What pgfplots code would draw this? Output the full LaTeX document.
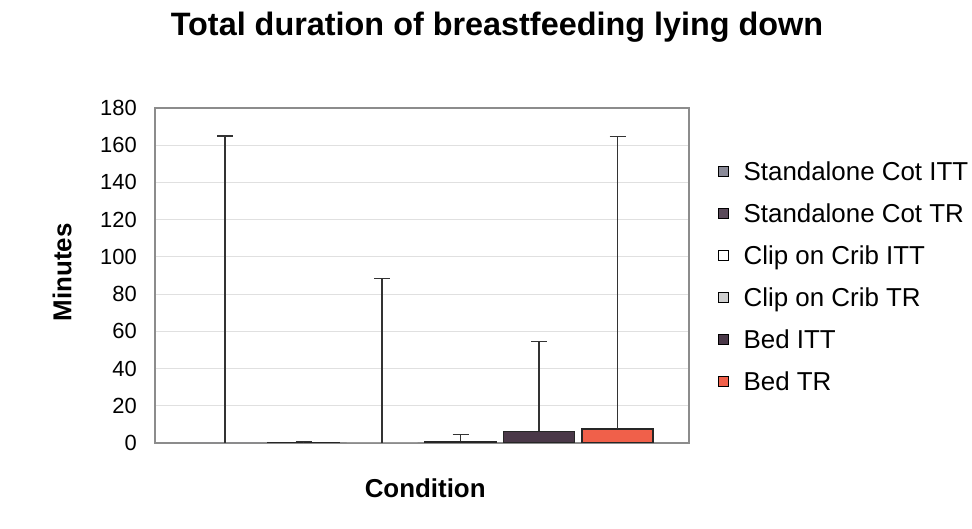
\documentclass[border=0pt]{standalone}
\usepackage{pgfplots}
\pgfplotsset{compat=1.18}
\usepackage{fontspec}
\setmainfont{Liberation Sans}
\definecolor{scITT}{HTML}{8A8A98}
\definecolor{scTR}{HTML}{5A4A5A}
\definecolor{ccITT}{HTML}{FFFFFF}
\definecolor{ccTR}{HTML}{D0D0D0}
\definecolor{bedITT}{HTML}{4A3848}
\definecolor{bedTR}{HTML}{F0604A}
\pgfplotsset{eb/.style={line width=1.2pt, error bars/.cd, y dir=plus, y explicit,
  error mark=|, error mark options={line width=1.4pt, mark size=8bp, black!80},
  error bar style={line width=1.4pt, black!80}}}
\begin{document}
\begin{tikzpicture}
\useasboundingbox (0,0) rectangle (972bp,529bp);
\node[font=\bfseries\fontsize{32.5}{34}\selectfont] at (497bp,502bp) {Total duration of breastfeeding lying down};
\begin{axis}[
  at={(155bp,86bp)}, anchor=south west,
  scale only axis, width=534bp, height=335bp,
  ybar, bar shift=0pt, bar width=71bp,
  xmin=0.108, xmax=6.91, ymin=0, ymax=180,
  xtick=\empty,
  ytick={0,20,...,180},
  major tick length=0pt,
  ymajorgrids, grid style={black!12, line width=0.8pt},
  axis line style={black!45, line width=1.2pt},
  yticklabel style={font=\fontsize{22}{24}\selectfont, inner sep=0pt, xshift=-18bp, anchor=east},
  /pgf/number format/assume math mode=true,
  xlabel={Condition}, ylabel={Minutes},
  every axis x label/.style={at={(axis description cs:0.506,-0.134)}, anchor=center, font=\bfseries\fontsize{26}{28}\selectfont},
  every axis y label/.style={at={(axis description cs:-0.174,0.51)}, rotate=90, anchor=center, font=\bfseries\fontsize{26}{28}\selectfont},
  legend style={at={(1.054,0.488)}, anchor=west, draw=none, fill=none,
    font=\fontsize{26}{28}\selectfont, row sep=18.5bp, column sep=15bp, inner sep=0pt,
    nodes={inner sep=0pt, text height=18bp, text depth=5.5bp}},
  legend cell align=left,
  legend image code/.code={\draw[#1, draw=black, line width=0.6pt] (0bp,-2bp) rectangle (10bp,8bp);},
]
\addplot[fill=scITT, draw=none, eb] table[x=x, y=y, y error=e] {
x y e
1 0 165
};
\addlegendentry{Standalone Cot ITT}
\addplot[fill=scTR, draw=black!85, eb] table[x=x, y=y, y error=e] {
x y e
2 0.4 0.4
};
\addlegendentry{Standalone Cot TR}
\addplot[fill=ccITT, draw=none, eb] table[x=x, y=y, y error=e] {
x y e
3 0 88.4
};
\addlegendentry{Clip on Crib ITT}
\addplot[fill=ccTR, draw=black!85, eb] table[x=x, y=y, y error=e] {
x y e
4 1.0 3.5
};
\addlegendentry{Clip on Crib TR}
\addplot[fill=bedITT, draw=black!85, eb] table[x=x, y=y, y error=e] {
x y e
5 6.2 48.2
};
\addlegendentry{Bed ITT}
\addplot[fill=bedTR, draw=black!85, eb] table[x=x, y=y, y error=e] {
x y e
6 7.5 157.2
};
\addlegendentry{Bed TR}
\end{axis}
\end{tikzpicture}
\end{document}
